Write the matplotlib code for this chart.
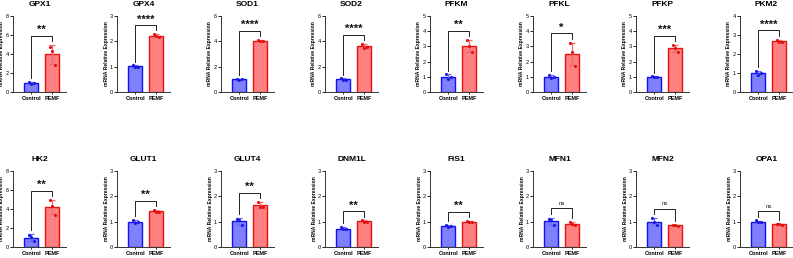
import numpy as np
import matplotlib.pyplot as plt

plt.rcParams['font.family'] = ['Liberation Sans', 'DejaVu Sans']

genes = ["GPX1", "GPX4", "SOD1", "SOD2", "PFKM", "PFKL", "PFKP", "PKM2",
         "HK2", "GLUT1", "GLUT4", "DNM1L", "FIS1", "MFN1", "MFN2", "OPA1"]
groups = ["Control", "PEMF"]

control_pts = [
    [1.09, 0.84, 0.98], [1.05, 0.97, 1.00], [1.02, 0.98, 1.00], [1.08, 0.95, 0.98],
    [1.16, 0.86, 1.00], [1.10, 0.90, 1.00], [1.02, 0.98, 1.00], [1.10, 0.90, 1.00],
    [1.30, 1.10, 0.60], [1.07, 0.95, 0.98], [1.11, 1.06, 0.85], [0.78, 0.70, 0.70],
    [0.87, 0.80, 0.82], [1.12, 1.08, 0.85], [1.15, 1.00, 0.85], [1.05, 0.98, 0.97],
]
pemf_pts = [
    [4.77, 4.30, 2.84], [2.28, 2.20, 2.18], [4.10, 4.00, 4.05], [3.80, 3.50, 3.55],
    [3.42, 3.05, 2.60], [3.20, 2.61, 1.73], [3.10, 2.90, 2.62], [2.76, 2.65, 2.64],
    [4.90, 4.30, 3.42], [1.47, 1.40, 1.38], [1.78, 1.58, 1.58], [1.05, 0.98, 1.00],
    [1.02, 1.00, 0.98], [1.00, 0.90, 0.88], [0.88, 0.85, 0.83], [0.92, 0.90, 0.88],
]
y_top = [8, 3, 6, 6, 5, 5, 5, 4, 8, 3, 3, 3, 3, 3, 3, 3]
y_step = [2, 1, 2, 2, 1, 1, 1, 1, 2, 1, 1, 1, 1, 1, 1, 1]
signif = ["**", "****", "****", "****", "**", "*", "***", "****",
          "**", "**", "**", "**", "**", "ns", "ns", "ns"]

fill_c = ["#8080ff", "#ff8080"]
edge_c = ["#1010ff", "#ee1111"]
err_c = ["#6a6aff", "#f06a6a"]
dot_c = ["#1a1ad8", "#e01010"]
jitter = [-0.12, 0.0, 0.12]

W, H = 793, 258
fig = plt.figure(figsize=(W / 100, H / 100), dpi=100)

col_x = [13, 117, 221, 325, 430, 533, 636, 740]
row_bottom = [92, 247]
ax_w, ax_h = 53, 76

for i, gene in enumerate(genes):
    r, c = divmod(i, 8)
    ax = fig.add_axes([col_x[c] / W, 1 - row_bottom[r] / H, ax_w / W, ax_h / H])
    tops = []
    for g, pts in enumerate([control_pts[i], pemf_pts[i]]):
        pts = np.array(pts)
        m, sd = pts.mean(), pts.std(ddof=1)
        ax.bar(g, m, width=0.67, color=fill_c[g], edgecolor=edge_c[g],
               linewidth=1.0, zorder=2)
        ax.errorbar(g, m, yerr=sd, color=err_c[g], capsize=2.4,
                    elinewidth=0.9, capthick=0.9, zorder=3)
        ax.scatter(g + np.array(jitter), pts, s=5, color=dot_c[g],
                   zorder=4, linewidths=0)
        tops.append(max(m + sd, pts.max()))
    yt = y_top[i]
    by = max(tops) + 0.12 * yt
    ax.plot([0, 0, 1, 1], [tops[0] + 0.05 * yt, by, by, tops[1] + 0.05 * yt],
            color="#222222", lw=0.7, zorder=5, clip_on=False)
    if signif[i] == "ns":
        ax.text(0.5, by + 0.03 * yt, "ns", ha="center", va="bottom",
                fontsize=4.5, color="#222222")
    else:
        ax.text(0.5, by + 0.01 * yt, signif[i], ha="center", va="bottom",
                fontsize=8, fontweight="bold", color="#111111")

    ax.set_xlim(-0.86, 1.66)
    ax.set_ylim(0, yt)
    ax.set_yticks(np.arange(0, yt + 0.01, y_step[i]))
    ax.set_xticks([0, 1])
    ax.set_xticklabels(groups, fontsize=4, fontweight="bold")
    ax.tick_params(axis="y", labelsize=4, length=2, width=0.6, pad=0.8)
    ax.tick_params(axis="x", length=1.5, width=0.6, pad=1.5)
    ax.set_ylabel("mRNA Relative Expression", fontsize=3.6,
                  fontweight="bold", labelpad=1)
    ax.set_title(gene, fontsize=6, fontweight="bold", pad=7)
    for s in ["top", "right"]:
        ax.spines[s].set_visible(False)
    for s in ["left", "bottom"]:
        ax.spines[s].set_linewidth(0.7)
        ax.spines[s].set_color("#333333")

fig.savefig("out.png", dpi=100)
